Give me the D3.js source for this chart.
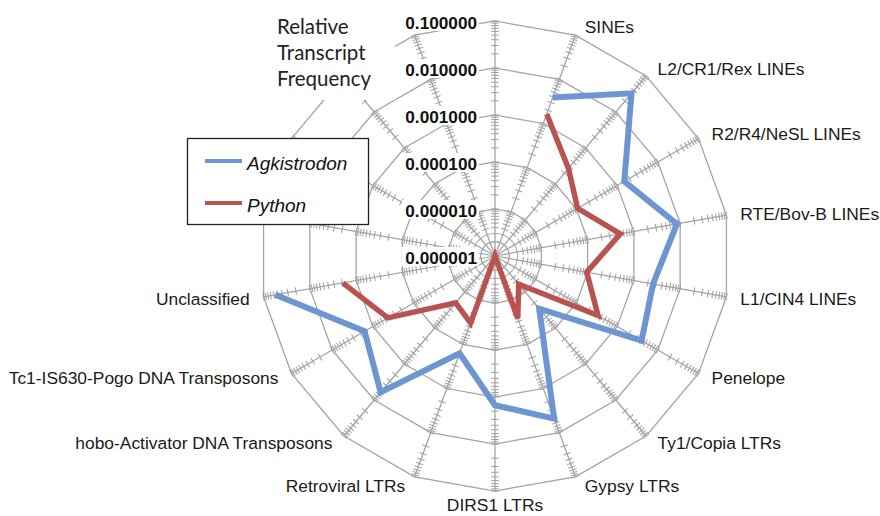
<!DOCTYPE html>
<html><head><meta charset="utf-8">
<script src="https://cdn.jsdelivr.net/npm/d3@7"></script>
<style>
html,body{margin:0;padding:0;background:#fff;}
svg{display:block;}
</style></head><body>
<svg id="chart" width="880" height="516"></svg>
<script>
// Radar spokes, clockwise from 12 o'clock; blank names are unlabelled spokes.
const categories = ["", "SINEs", "L2/CR1/Rex LINEs", "R2/R4/NeSL LINEs", "RTE/Bov-B LINEs", "L1/CIN4 LINEs", "Penelope", "Ty1/Copia LTRs", "Gypsy LTRs", "DIRS1 LTRs", "Retroviral LTRs", "hobo-Activator DNA Transposons", "Tc1-IS630-Pogo DNA Transposons", "Unclassified", "", "", "", ""];
const agkistrodon = [null, 0.0039, 0.033, 0.0015, 0.0085, 0.0026, 0.0040, 0.000029, 0.0048, 0.0015, 0.00016, 0.0061, 0.0016, 0.056, null, null, null, null];
const python = [null, 0.00165, 0.00027, 0.000107, 0.00051, 0.000096, 0.00034, 0.0000061, 0.000026, 0.000001, 0.000033, 0.000020, 0.00043, 0.00194, null, null, null, null];
const tickValues = [0.000001, 0.00001, 0.0001, 0.001, 0.01, 0.1];
const tickLabels = ["0.000001", "0.000010", "0.000100", "0.001000", "0.010000", "0.100000"];
const seriesNames = ["Agkistrodon", "Python"];
const titleLines = ["Relative", "Transcript", "Frequency"];

const colors = { Agkistrodon: "#6c95d1", Python: "#b9534f" };
const widths = { Agkistrodon: 6, Python: 5.5 };
const gridColor = "#a2a2a2";
const cx = 495, cy = 256, R = 235;
const n = categories.length;
const step = 2 * Math.PI / n;

const svg = d3.select("#chart");
const r = d3.scaleLog().domain([tickValues[0], tickValues[tickValues.length - 1]]).range([0, R]);

const g = svg.append("g").attr("transform", `translate(${cx},${cy})`);

// polygon rings at each decade
const ring = d3.lineRadial().angle((d, i) => i * step).radius(d => d).curve(d3.curveLinearClosed);
g.append("g").selectAll("path")
  .data(tickValues.slice(1))
  .join("path")
  .attr("d", v => ring(d3.range(n).map(() => r(v))))
  .attr("fill", "none")
  .attr("stroke", gridColor)
  .attr("stroke-width", 1.25);

// spokes with log tick ladders
const minorVals = [];
for (let e = -6; e < -1; e++) {
  for (let k = 1; k <= 9; k++) minorVals.push(k * Math.pow(10, e));
}
minorVals.push(0.1);
const spokes = g.append("g").selectAll("g")
  .data(d3.range(n))
  .join("g")
  .attr("transform", i => `rotate(${i * 360 / n})`);
spokes.append("line")
  .attr("x1", 0).attr("y1", 0).attr("x2", 0).attr("y2", -R)
  .attr("stroke", gridColor).attr("stroke-width", 1.25);
spokes.selectAll("line.tick")
  .data(minorVals.filter(v => v > tickValues[0]))
  .join("line")
  .attr("class", "tick")
  .attr("x1", -3.8).attr("x2", 3.8)
  .attr("y1", v => -r(v)).attr("y2", v => -r(v))
  .attr("stroke", gridColor).attr("stroke-width", 1.05);

// category labels
g.append("g").selectAll("text")
  .data(categories.map((c, i) => ({ c, i })).filter(d => d.c))
  .join("text")
  .each(function (d) {
    const a = d.i * step;
    const s = Math.sin(a), c = Math.cos(a);
    const x = R * s, y = -R * c;
    const sign = Math.abs(s) < 0.01 ? 0 : Math.sign(s);
    const dx = sign * (7 + 7 * Math.abs(s));
    const dy = sign === 0 ? 14 : -c * 9;
    d3.select(this)
      .attr("x", x + dx)
      .attr("y", y + dy)
      .attr("dy", "0.36em")
      .attr("text-anchor", sign > 0 ? "start" : sign < 0 ? "end" : "middle");
  })
  .attr("font-family", "'Liberation Sans', Arial, sans-serif")
  .attr("font-size", 17.4)
  .attr("fill", "#1a1a1a")
  .text(d => d.c);

// value axis labels on the vertical spoke
const axisLab = svg.append("g");
axisLab.selectAll("rect")
  .data(tickValues)
  .join("rect")
  .attr("x", 402).attr("width", 77)
  .attr("y", v => cy - r(v) - 9).attr("height", 19)
  .attr("fill", "#fff");
axisLab.selectAll("text")
  .data(tickValues)
  .join("text")
  .attr("x", 477)
  .attr("y", v => cy - r(v) + 1.5)
  .attr("dy", "0.36em")
  .attr("text-anchor", "end")
  .attr("font-family", "'Liberation Sans', Arial, sans-serif")
  .attr("font-weight", "bold")
  .attr("font-size", 17.2)
  .attr("fill", "#111")
  .text((v, i) => tickLabels[i]);

// axis title
svg.append("rect").attr("x", 262).attr("y", 0).attr("width", 133).attr("height", 100).attr("fill", "#fff");
svg.append("g").selectAll("text")
  .data(titleLines)
  .join("text")
  .attr("x", 277)
  .attr("y", (d, i) => 27 + i * 26)
  .attr("dy", "0.36em")
  .attr("font-family", "Lato, 'Open Sans', sans-serif")
  .attr("font-size", 20.5)
  .attr("fill", "#222")
  .text(d => d);

// series lines
const line = d3.lineRadial()
  .defined(d => d != null)
  .angle((d, i) => i * step)
  .radius(d => r(d))
  .curve(d3.curveLinear);
const seriesData = [agkistrodon, python];
g.append("g").selectAll("path")
  .data(seriesData)
  .join("path")
  .attr("d", d => line(d))
  .attr("fill", "none")
  .attr("stroke", (d, i) => colors[seriesNames[i]])
  .attr("stroke-width", (d, i) => widths[seriesNames[i]])
  .attr("stroke-linejoin", "miter")
  .attr("stroke-linecap", "butt");

// legend
const lg = svg.append("g");
lg.append("rect")
  .attr("x", 187.5).attr("y", 138.5).attr("width", 181).attr("height", 86)
  .attr("fill", "#fff").attr("stroke", "#222").attr("stroke-width", 1.3);
const items = lg.selectAll("g")
  .data(seriesNames)
  .join("g")
  .attr("transform", (d, i) => `translate(0,${161 + i * 42})`);
items.append("line")
  .attr("x1", 205).attr("x2", 242).attr("y1", 0).attr("y2", 0)
  .attr("stroke", d => colors[d]).attr("stroke-width", 4);
items.append("text")
  .attr("x", 247).attr("y", 2).attr("dy", "0.36em")
  .attr("font-family", "'Liberation Sans', Arial, sans-serif")
  .attr("font-style", "italic")
  .attr("font-size", 19)
  .attr("fill", "#111")
  .text(d => d);
</script>
</body></html>
